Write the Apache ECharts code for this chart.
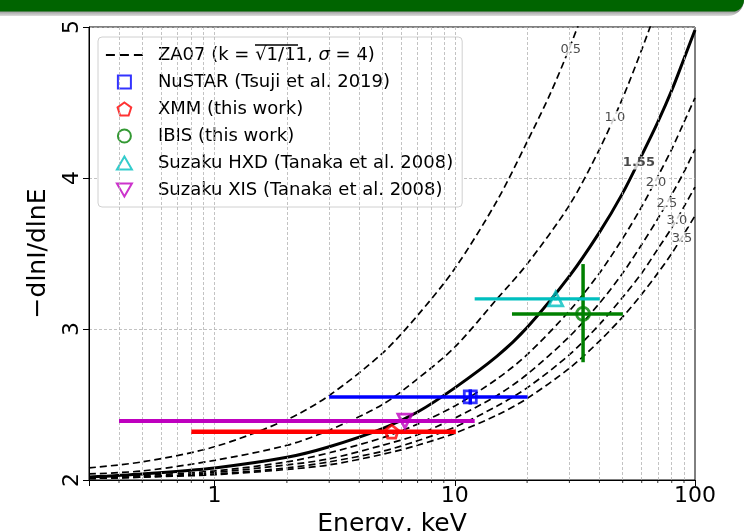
<!DOCTYPE html>
<html><head><meta charset="utf-8">
<script src="https://cdn.jsdelivr.net/npm/echarts@6/dist/echarts.min.js"></script>
<style>html,body{margin:0;padding:0;background:#fff}#c{width:744px;height:531px}</style>
</head><body><div id="c"></div>
<script>
// ---- data ----
const E_GRID = [0.3,0.5,1,2,3,5,7,10,15,20,30,40,50,60,70,80,90,100];
const curve05E = [0.3,0.5,1,2,3,5,7,10,15,20,25,30,35];
const curve05V = [2.08,2.12,2.22,2.40,2.56,2.84,3.09,3.40,3.85,4.24,4.56,4.86,5.14];
const curve10E = [0.3,0.5,1,2,3,5,7,10,15,20,30,40,50,60,70];
const curve10V = [2.04,2.06,2.13,2.23,2.33,2.50,2.67,2.88,3.20,3.43,3.82,4.19,4.53,4.85,5.14];
const curve155V = [2.02,2.04,2.08,2.15,2.22,2.34,2.45,2.61,2.82,3.01,3.35,3.64,3.90,4.15,4.37,4.58,4.79,4.98];
const curve20V = [2.02,2.03,2.06,2.12,2.18,2.28,2.37,2.49,2.67,2.83,3.12,3.37,3.60,3.81,4.01,4.19,4.37,4.53];
const curve25V = [2.01,2.02,2.05,2.10,2.14,2.23,2.30,2.41,2.56,2.70,2.95,3.17,3.37,3.56,3.73,3.89,4.04,4.19];
const curve30V = [2.01,2.02,2.04,2.08,2.12,2.19,2.26,2.35,2.49,2.61,2.83,3.03,3.21,3.37,3.53,3.67,3.81,3.94];
const curve35V = [2.01,2.02,2.035,2.07,2.10,2.17,2.23,2.31,2.43,2.54,2.74,2.92,3.08,3.23,3.37,3.50,3.63,3.75];

const curveLabels = ['0.5','1.0','1.55','2.0','2.5','3.0','3.5'];
const curveLabelE = [30.4,46.4,58.4,68.8,76.4,84.1,88.3];
const curveLabelV = [4.85,4.40,4.10,3.97,3.83,3.72,3.60];

// points: [E, value], x error [lo, hi], y error [lo, hi]
const nustarPt = [11.6, 2.55], nustarXErr = [3.0, 20.1], nustarYErr = [2.50, 2.60];
const xmmPt = [5.46, 2.32], xmmXErr = [0.80, 10.1], xmmYErr = [2.31, 2.33];
const ibisPt = [34.2, 3.10], ibisXErr = [17.3, 50.1], ibisYErr = [2.78, 3.43];
const hxdPt = [26.3, 3.20], hxdXErr = [12.1, 40.1], hxdYErr = [3.19, 3.21];
const xisPt = [6.2, 2.39], xisXErr = [0.40, 12.1], xisYErr = [2.38, 2.40];

const xTickLabels = [1, 10, 100];
const gridE = [0.4,0.5,0.6,0.7,0.8,0.9,1,2,3,4,5,6,7,8,9,10,20,30,40,50,60,70,80,90];

const ZA = 'ZA07 (k = √1/11, σ = 4)';
const NU = 'NuSTAR (Tsuji et al. 2019)';
const XM = 'XMM (this work)';
const IB = 'IBIS (this work)';
const HX = 'Suzaku HXD (Tanaka et al. 2008)';
const XI = 'Suzaku XIS (Tanaka et al. 2008)';

const zip = (a, b) => a.map((v, i) => [v, b[i]]);
const FONT = 'DejaVu Sans';

const ICON_SQ = 'path://M0,0H10V10H0Z';
const ICON_PENT = 'path://M0,-10L9.51,-3.09L5.88,8.09L-5.88,8.09L-9.51,-3.09Z';
const ICON_UP = 'path://M5,0L10,8.66H0Z';
const ICON_DN = 'path://M0,0H10L5,8.66Z';

function dashed(name, E, V) {
  return { type: 'line', name: name, data: zip(E, V), smooth: 0.3, symbol: 'none', z: 3,
    itemStyle: { color: '#000' },
    lineStyle: { color: '#000', width: 1.7, type: [7, 4] }, animation: false };
}
function errbar(color, pt, xe, ye, w) {
  return { type: 'custom', name: 'err' + color, z: 5, animation: false,
    data: [[pt[0], pt[1], xe[0], xe[1], ye[0], ye[1]]],
    encode: { x: [0, 2, 3], y: [1, 4, 5] },
    renderItem: function (params, api) {
      const xl = api.coord([api.value(2), api.value(1)]);
      const xh = api.coord([api.value(3), api.value(1)]);
      const yl = api.coord([api.value(0), api.value(4)]);
      const yh = api.coord([api.value(0), api.value(5)]);
      const st = { stroke: color, lineWidth: w };
      return { type: 'group', children: [
        { type: 'line', shape: { x1: xl[0], y1: xl[1], x2: xh[0], y2: xh[1] }, style: st },
        { type: 'line', shape: { x1: yl[0], y1: yl[1], x2: yh[0], y2: yh[1] }, style: st }
      ] };
    } };
}
function marker(name, color, pt, symbol, size, rot) {
  return { type: 'scatter', name: name, data: [pt], symbol: symbol, symbolSize: size, symbolRotate: rot || 0, z: 6,
    itemStyle: { color: 'rgba(255,255,255,0)', borderColor: color, borderWidth: 2.8 }, animation: false };
}

const chart = echarts.init(document.getElementById('c'), null, { renderer: 'canvas' });
const series = [
  Object.assign(dashed(ZA, curve05E, curve05V), {
    markLine: { silent: true, symbol: 'none', animation: false, label: { show: false },
      lineStyle: { color: '#b4b4b4', width: 0.8, type: [3, 2] },
      data: gridE.map(e => ({ xAxis: e })) } }),
  dashed(ZA, curve10E, curve10V),
  { type: 'line', name: 'bold155', data: zip(E_GRID, curve155V), smooth: 0.3, symbol: 'none', z: 3,
    lineStyle: { color: '#000', width: 3 }, animation: false },
  dashed(ZA, E_GRID, curve20V),
  dashed(ZA, E_GRID, curve25V),
  dashed(ZA, E_GRID, curve30V),
  dashed(ZA, E_GRID, curve35V),
  // minor tick marks under the x axis
  { type: 'custom', name: 'minorTicks', z: 2, animation: false, silent: true,
    data: gridE.filter(e => xTickLabels.indexOf(e) < 0).map(e => [e, 2]),
    renderItem: function (params, api) {
      const p = api.coord([api.value(0), api.value(1)]);
      return { type: 'line', shape: { x1: p[0], y1: p[1], x2: p[0], y2: p[1] + 3 }, style: { stroke: '#000', lineWidth: 0.8 } };
    } },
  { type: 'scatter', name: 'curveLabels', z: 4, symbolSize: 1, animation: false,
    itemStyle: { color: 'rgba(0,0,0,0)' },
    data: curveLabels.map((t, i) => ({ value: [curveLabelE[i], curveLabelV[i]], name: t,
      label: { fontWeight: t === '1.55' ? 'bold' : 'normal' } })),
    label: { show: true, position: 'inside', formatter: p => p.name, color: '#1a1a1a', fontFamily: FONT,
      fontSize: 13, backgroundColor: '#fff', padding: [0, 1] } },
  errbar('#0000ff', nustarPt, nustarXErr, nustarYErr, 3.5),
  errbar('#ff0000', xmmPt, xmmXErr, xmmYErr, 4.5),
  errbar('#008000', ibisPt, ibisXErr, ibisYErr, 3.5),
  errbar('#00bfbf', hxdPt, hxdXErr, hxdYErr, 3.3),
  errbar('#bf00bf', xisPt, xisXErr, xisYErr, 4),
  marker(NU, '#0000ff', nustarPt, 'rect', 12),
  marker(XM, '#ff0000', xmmPt, ICON_PENT, 13),
  marker(IB, '#008000', ibisPt, 'circle', 13),
  marker(HX, '#00bfbf', hxdPt, 'triangle', 14),
  marker(XI, '#bf00bf', xisPt, 'triangle', 14, 180)
];

chart.setOption({
  animation: false,
  textStyle: { fontFamily: FONT },
  grid: { left: 89, right: 49, top: 27, bottom: 51, show: true, borderColor: '#000', borderWidth: 1,
    containLabel: false, outerBoundsMode: 'none' },
  xAxis: { type: 'log', logBase: 10, min: 0.3, max: 100,
    name: 'Energy, keV', nameLocation: 'middle', nameGap: 27,
    nameTextStyle: { fontSize: 25, color: '#000', fontFamily: FONT },
    axisLine: { lineStyle: { color: '#000', width: 1 } },
    axisTick: { show: true, inside: false, length: 6, lineStyle: { color: '#000' } },
    axisLabel: { fontSize: 22, color: '#000', margin: 5, fontFamily: FONT,
      formatter: v => (xTickLabels.indexOf(Math.round(v * 1000) / 1000) >= 0 ? String(Math.round(v)) : '') },
    splitLine: { show: false } },
  yAxis: { type: 'value', min: 2, max: 5, interval: 1,
    name: '−dlnI/dlnE', nameLocation: 'middle', nameGap: 38, nameRotate: 90,
    nameTextStyle: { fontSize: 25, color: '#000', fontFamily: FONT },
    axisLine: { show: true, lineStyle: { color: '#000', width: 1 } },
    axisTick: { show: true, length: 6, lineStyle: { color: '#000' } },
    axisLabel: { fontSize: 22, color: '#000', rotate: 90, margin: 6, fontFamily: FONT },
    splitLine: { show: true, lineStyle: { color: '#b4b4b4', width: 0.8, type: [3, 2] } } },
  legend: {
    data: [
      { name: ZA, itemStyle: { color: 'rgba(0,0,0,0)', borderWidth: 0 }, lineStyle: { color: '#000', width: 1.8, type: [9, 5] } },
      { name: NU, icon: ICON_SQ }, { name: XM, icon: ICON_PENT }, { name: IB, icon: 'circle' },
      { name: HX, icon: ICON_UP }, { name: XI, icon: ICON_DN }
    ],
    orient: 'vertical', left: 98, top: 37, padding: [9, 9, 8, 7],
    backgroundColor: '#fff', borderColor: '#d0d0d0', borderWidth: 1, borderRadius: 4,
    itemWidth: 37, itemHeight: 13, itemGap: 9,
    textStyle: { fontSize: 18, color: '#000', fontFamily: FONT, padding: [0, 0, 0, 10],
      rich: { a: { fontSize: 18, fontFamily: FONT, color: '#000', lineHeight: 23 },
              i: { fontSize: 18, fontFamily: FONT, fontStyle: 'italic', color: '#000', lineHeight: 23 } } },
    formatter: n => n === ZA ? '{a|ZA07 (k = √1/11, }{i|σ}{a| = 4)}' : n,
    selectedMode: false
  },
  graphic: [
    { type: 'rect', left: 0, top: 0, shape: { width: 744, height: 16, r: [0, 0, 18, 0] }, z: 100,
      style: { fill: new echarts.graphic.LinearGradient(0, 0, 0, 1, [
        { offset: 0, color: '#777' }, { offset: 0.7, color: '#999' }, { offset: 1, color: '#ddd' }]) } },
    { type: 'rect', left: 0, top: 0, shape: { width: 744, height: 11.5, r: [0, 0, 16, 0] }, z: 101,
      style: { fill: '#006400' } },
    { type: 'line', shape: { x1: 255, y1: 45, x2: 298, y2: 45 }, style: { stroke: '#000', lineWidth: 1.3 }, z: 120 }
  ],
  series: series
});
</script></body></html>
